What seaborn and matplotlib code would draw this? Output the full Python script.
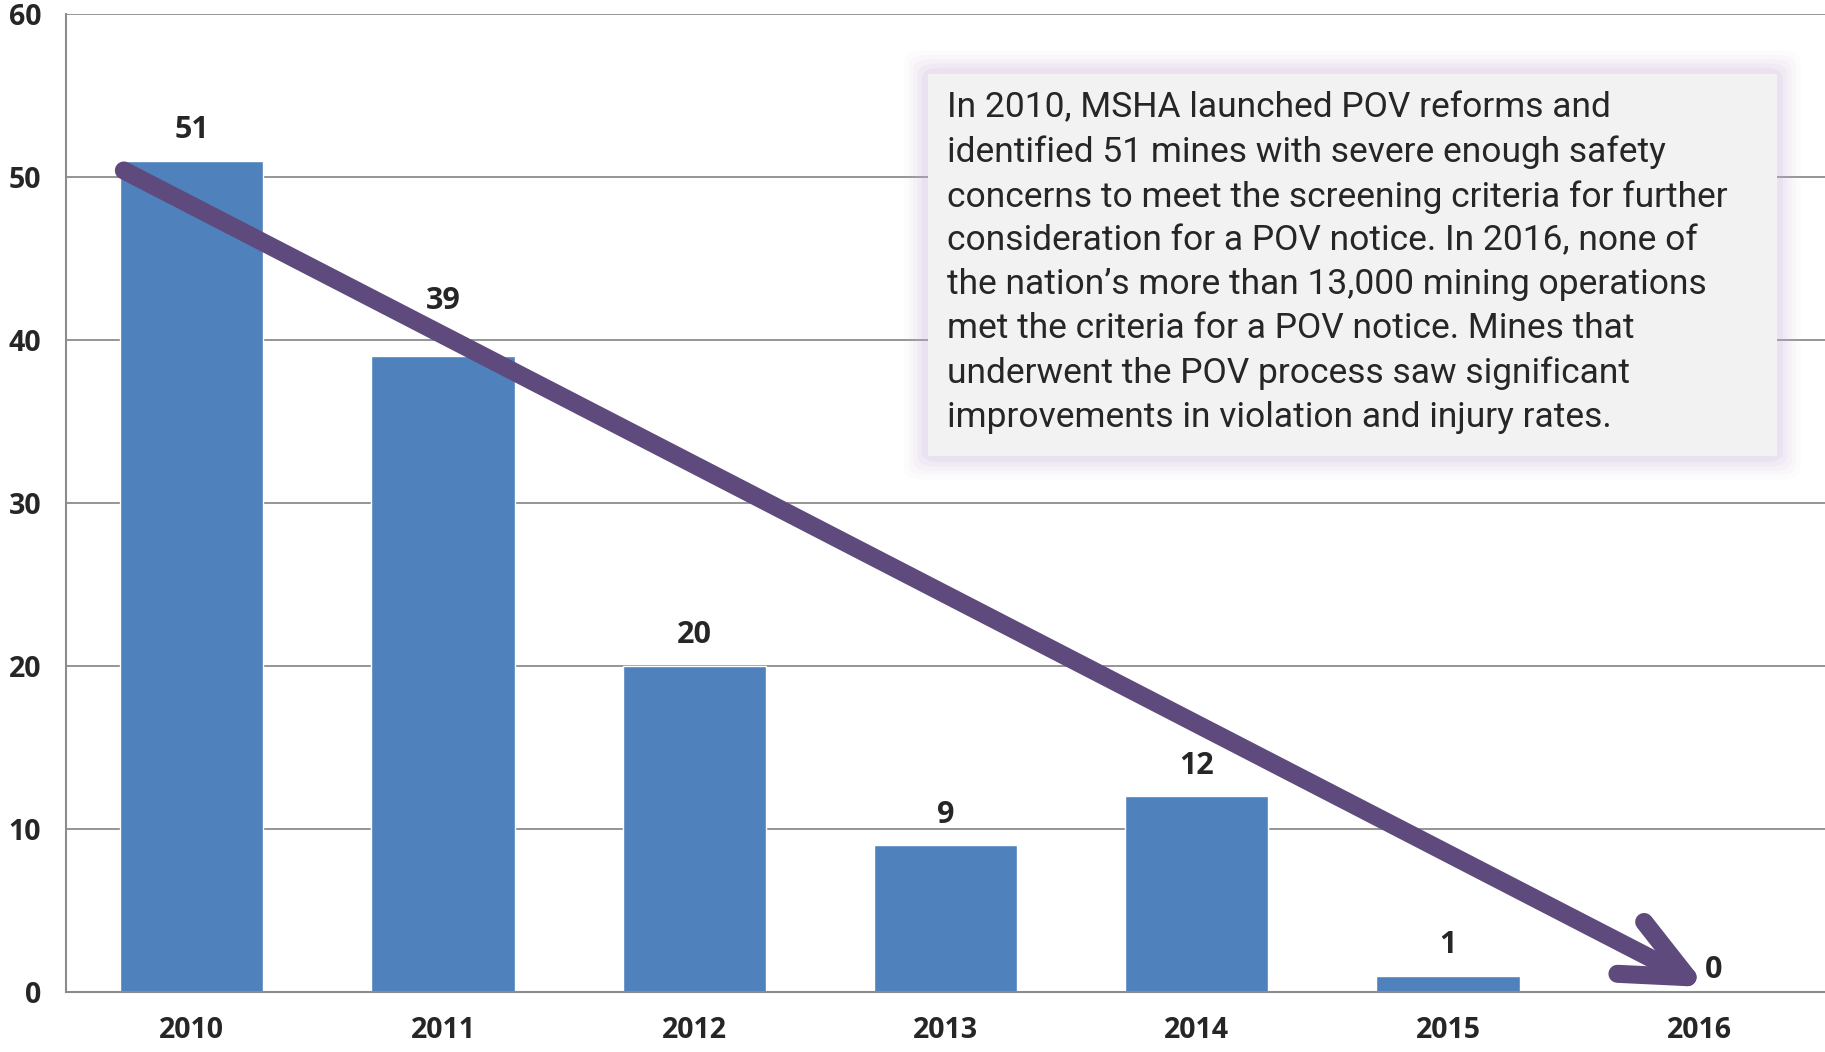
import matplotlib
matplotlib.use("Agg")
import matplotlib.pyplot as plt
from matplotlib.patches import FancyBboxPatch
import pandas as pd
import seaborn as sns

# chart data
years = ["2010", "2011", "2012", "2013", "2014", "2015", "2016"]
pov_mines = [51, 39, 20, 9, 12, 1, 0]
y_ticks = [0, 10, 20, 30, 40, 50, 60]

note = ("In 2010, MSHA launched POV reforms and\n"
        "identified 51 mines with severe enough safety\n"
        "concerns to meet the screening criteria for further\n"
        "consideration for a POV notice. In 2016, none of\n"
        "the nation\u2019s more than 13,000 mining operations\n"
        "met the criteria for a POV notice. Mines that\n"
        "underwent the POV process saw significant\n"
        "improvements in violation and injury rates.")

BAR_BLUE = "#4F81BD"
ARROW_PURPLE = "#5F4A7D"
GRID_GREY = "#8C8C8C"

sns.set_style("white")
plt.rcParams["font.family"] = ["Open Sans", "DejaVu Sans"]

df = pd.DataFrame({"year": years, "mines": pov_mines})

fig = plt.figure(figsize=(18.25, 10.52), dpi=100)
ax = fig.add_axes([0.0362, 0.057, 0.9638, 0.9297])

sns.barplot(data=df, x="year", y="mines", color=BAR_BLUE, width=0.57,
            saturation=1, ax=ax, zorder=2)

ax.set_ylim(0, 60)
ax.set_xlim(-0.5, 6.5)
ax.set_yticks(y_ticks)
ax.set_xlabel("")
ax.set_ylabel("")
ax.yaxis.grid(True, color=GRID_GREY, linewidth=1.3, zorder=0)
ax.set_axisbelow(True)
for side in ["top", "right"]:
    ax.spines[side].set_visible(False)
for side in ["left", "bottom"]:
    ax.spines[side].set_color(GRID_GREY)
    ax.spines[side].set_linewidth(1.5)
ax.tick_params(axis="both", length=0, labelsize=20.5)
ax.tick_params(axis="y", pad=18)
ax.tick_params(axis="x", pad=17)
for lbl in ax.get_xticklabels() + ax.get_yticklabels():
    lbl.set_fontweight("bold")

# value labels above the bars (2011 sits higher, 2016 nudged right like the original)
label_dx = [0, 0, 0, 0, 0, 0, 10]
label_dy = [22, 40, 22, 22, 22, 22, 16]
for i, v in enumerate(pov_mines):
    ax.annotate(str(v), xy=(i, v), xytext=(label_dx[i], label_dy[i]),
                textcoords="offset points", ha="center", va="center",
                fontsize=22, fontweight="bold", zorder=6)

# downward trend arrow from 2010 to 2016
ax.annotate("", xy=(6.03, 0.3), xytext=(-0.27, 50.4),
            arrowprops=dict(arrowstyle="->,head_length=4.6,head_width=2.1",
                            color=ARROW_PURPLE, lw=13,
                            capstyle="round", joinstyle="round",
                            shrinkA=0, shrinkB=0),
            zorder=5)

# text box with soft purple glow
bx, by, bw, bh = 0.5085, 0.5665, 0.465, 0.363
for i, a in enumerate([0.04, 0.06, 0.08, 0.10, 0.13]):
    pad = 0.013 - i * 0.0024
    glow = FancyBboxPatch((bx - pad, by - pad * 1.73), bw + 2 * pad, bh + 2 * pad * 1.73,
                          boxstyle="round,pad=0,rounding_size=0.01",
                          transform=fig.transFigure, facecolor="#C9B3DA",
                          edgecolor="none", alpha=a, zorder=6)
    fig.patches.append(glow)
box = FancyBboxPatch((bx, by), bw, bh, boxstyle="square,pad=0",
                     transform=fig.transFigure, facecolor="#F2F2F2",
                     edgecolor="none", zorder=7)
fig.patches.append(box)
fig.text(bx + 0.0105, by + bh - 0.016, note, ha="left", va="top",
         fontsize=25.5, linespacing=1.42, zorder=8,
         family=["Roboto", "DejaVu Sans"])

fig.savefig("out.png", dpi=100)
